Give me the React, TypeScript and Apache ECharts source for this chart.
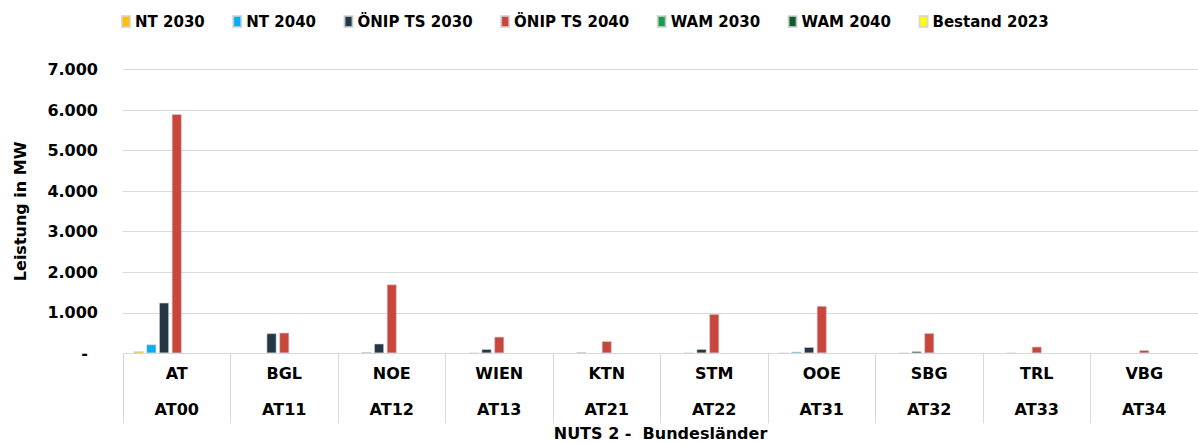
import React, { useEffect, useRef } from "react";
import * as echarts from "echarts";

const regions = ["AT", "BGL", "NOE", "WIEN", "KTN", "STM", "OOE", "SBG", "TRL", "VBG"];
const nutsCodes = ["AT00", "AT11", "AT12", "AT13", "AT21", "AT22", "AT31", "AT32", "AT33", "AT34"];

const seriesNames = ["NT 2030", "NT 2040", "ÖNIP TS 2030", "ÖNIP TS 2040", "WAM 2030", "WAM 2040", "Bestand 2023"];
const seriesColors = ["#FFC000", "#00B0F0", "#243746", "#C9463D", "#1E9950", "#0F5B2E", "#FFFF00"];

const nt2030 = [50, null, null, null, null, null, 5, null, null, null];
const nt2040 = [220, null, 30, 10, 30, 10, 40, 10, 10, null];
const onip2030 = [1250, 495, 240, 105, null, 105, 155, 50, null, null];
const onip2040 = [5900, 510, 1700, 410, 300, 970, 1170, 500, 165, 80];
const wam2030 = [null, null, null, null, null, null, null, null, null, null];
const wam2040 = [null, null, null, null, null, null, null, null, null, null];
const bestand2023 = [null, null, null, null, null, null, null, null, null, null];

const seriesValues = [nt2030, nt2040, onip2030, onip2040, wam2030, wam2040, bestand2023];

const FONT = "DejaVu Sans, Liberation Sans, sans-serif";
const txt = { fontFamily: FONT, fontWeight: "bold" as const, fontSize: 16, color: "#000" };

export default function App() {
  const ref = useRef<HTMLDivElement>(null);
  useEffect(() => {
    if (!ref.current) return;
    const chart = echarts.init(ref.current, undefined, { renderer: "svg" });
    chart.setOption({
      animation: false,
      backgroundColor: "#ffffff",
      textStyle: { fontFamily: FONT },
      legend: {
        top: 9,
        left: 116,
        itemWidth: 8,
        itemHeight: 11,
        itemGap: 27.5,
        icon: "rect",
        textStyle: { ...txt, fontSize: 15 },
        data: seriesNames,
      },
      grid: { left: 123, right: 0, top: 69.5, bottom: 89.7, containLabel: false, outerBoundsMode: "none" },
      xAxis: {
        type: "category",
        data: regions.map((r, i) => `${r}\n${nutsCodes[i]}`),
        name: "NUTS 2 -  Bundesländer",
        nameLocation: "middle",
        nameGap: 72,
        nameMoveOverlap: false,
        nameTextStyle: { ...txt },
        axisLine: { show: true, lineStyle: { color: "#d9d9d9", width: 1 } },
        axisTick: { show: true, length: 70, interval: 0, lineStyle: { color: "#d9d9d9" } },
        axisLabel: { interval: 0, margin: 2, ...txt, lineHeight: 36 },
      },
      yAxis: {
        type: "value",
        min: 0,
        max: 7000,
        interval: 1000,
        name: "Leistung in MW",
        nameLocation: "middle",
        nameGap: 95,
        nameMoveOverlap: false,
        nameTextStyle: { ...txt },
        axisLine: { show: false },
        axisTick: { show: false },
        splitLine: { lineStyle: { color: "#d9d9d9", width: 1 } },
        axisLabel: {
          margin: 25,
          ...txt,
          formatter: (v: number) => (v === 0 ? "{z|-}" : echarts.format.addCommas(v).replace(/,/g, ".")),
          rich: { z: { ...txt, padding: [0, 10, 0, 0] } },
        },
      },
      series: seriesNames.map((name, i) => ({
        name,
        type: "bar",
        data: seriesValues[i],
        barWidth: 10,
        barGap: "27%",
        itemStyle: { color: seriesColors[i], borderColor: "rgba(210,210,210,0.8)", borderWidth: 0.8 },
      })),
    });
    return () => chart.dispose();
  }, []);
  return <div ref={ref} style={{ position: "absolute", left: 0, top: 0, width: 1198, height: 443 }} />;
}
